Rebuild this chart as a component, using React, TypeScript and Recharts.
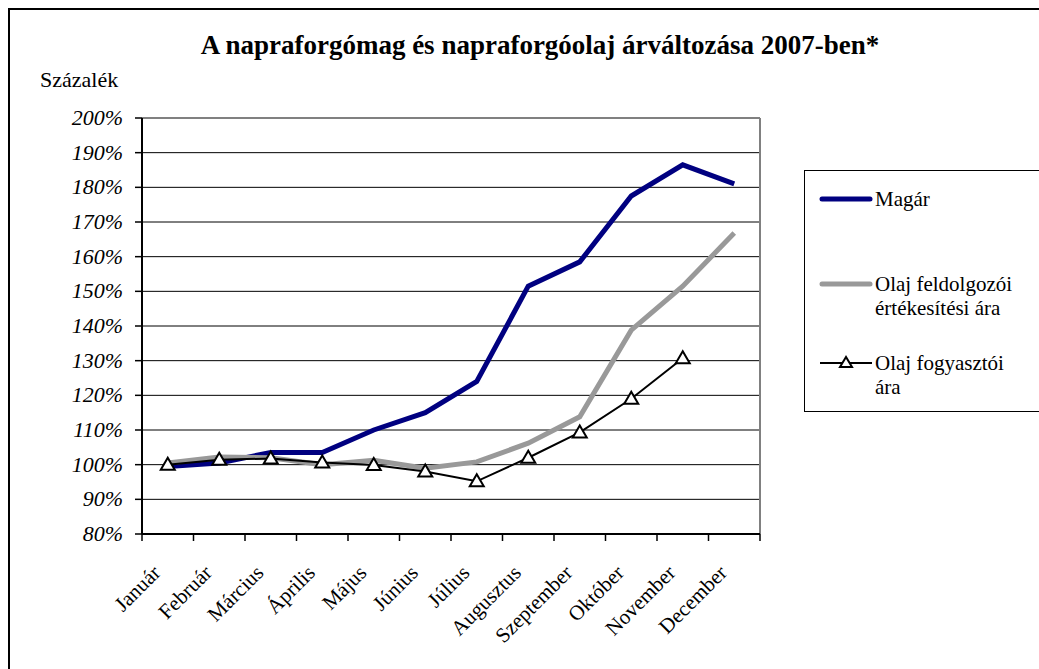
import React from 'react';
import { LineChart, Line, XAxis, YAxis, CartesianGrid, ReferenceLine, Legend } from 'recharts';

const months = ['Január', 'Február', 'Március', 'Április', 'Május', 'Június', 'Július', 'Augusztus', 'Szeptember', 'Október', 'November', 'December'];
const magar = [99.5, 100.5, 103.5, 103.5, 110, 115, 124, 151.5, 158.5, 177.5, 186.5, 181];
const olajFeldolgozoi = [100.5, 102.2, 102, 100, 101.3, 99, 100.8, 106.2, 113.8, 138.8, 151.5, 166.8];
const olajFogyasztoi: (number | null)[] = [100, 101.4, 101.8, 100.6, 99.9, 98, 95.2, 102, 109.3, 119, 130.7, null];
const yTicks = [80, 90, 100, 110, 120, 130, 140, 150, 160, 170, 180, 190, 200];

const data = months.map((m, i) => ({
  month: m,
  magar: magar[i],
  feld: olajFeldolgozoi[i],
  fogy: olajFogyasztoi[i],
}));

const FONT = 'Liberation Serif';
const W = 1039;
const H = 669;
const LEGEND_W = 240;
// the vertical legend on the right takes its width from the plot, so it is left out of the margin
const MARGIN = { top: 118, right: 279 - LEGEND_W, bottom: 0, left: 0 };
const Y_AXIS_W = 142;
const PLOT_W = W - 279 - Y_AXIS_W;
const HALF_BAND = PLOT_W / months.length / 2;

function Triangle(props: any) {
  const { cx, cy } = props;
  if (cx == null || cy == null) return <g />;
  return (
    <polygon
      points={`${cx},${cy - 7} ${cx - 7},${cy + 5} ${cx + 7},${cy + 5}`}
      fill="#fff"
      stroke="#000"
      strokeWidth={2}
    />
  );
}

function MonthTick(props: any) {
  const { x, y, payload, index } = props;
  const last = index === months.length - 1;
  const tx = x - 6;
  const ty = y + 40;
  return (
    <g>
      <line x1={x - HALF_BAND} y1={y} x2={x - HALF_BAND} y2={y + 7} stroke="#000" strokeWidth={1.5} />
      {last && <line x1={x + HALF_BAND} y1={y} x2={x + HALF_BAND} y2={y + 7} stroke="#000" strokeWidth={1.5} />}
      <text
        x={tx}
        y={ty}
        textAnchor="end"
        transform={`rotate(-45, ${tx}, ${ty})`}
        style={{ fontFamily: FONT }}
        fontSize={21}
        fill="#000"
      >
        {payload.value}
      </text>
    </g>
  );
}

function YTick(props: any) {
  const { x, y, payload } = props;
  return (
    <text x={x} y={y} dy={7} textAnchor="end" style={{ fontFamily: FONT }} fontStyle="italic" fontSize={22} fill="#000">
      {`${payload.value}%`}
    </text>
  );
}

const legendRows = [
  { top: 28, lines: ['Magár'] },
  { top: 113, lines: ['Olaj feldolgozói', 'értékesítési ára'] },
  { top: 192, lines: ['Olaj fogyasztói', 'ára'] },
];

function LegendBox(props: any) {
  const payload = props.payload || [];
  return (
    <div
      style={{
        position: 'relative',
        width: LEGEND_W,
        height: 240,
        border: '1px solid #000',
        background: '#fff',
        fontFamily: FONT,
        fontSize: 21,
        color: '#000',
      }}
    >
      {payload.map((entry: any, i: number) => {
        const row = legendRows[i];
        const thick = i < 2;
        return (
          <div key={entry.value} style={{ position: 'absolute', left: 14, top: row.top - 12, display: 'flex' }}>
            <svg width={54} height={24} style={{ flex: 'none' }}>
              <line
                x1={thick ? 3 : 1}
                y1={12}
                x2={thick ? 51 : 53}
                y2={12}
                stroke={entry.color}
                strokeWidth={thick ? 5 : 2}
                strokeLinecap={thick ? 'round' : 'butt'}
              />
              {!thick && <polygon points="27,6 21,16 33,16" fill="#fff" stroke="#000" strokeWidth={2} />}
            </svg>
            <div style={{ lineHeight: '24px', marginLeft: 2 }}>
              {row.lines.map((l) => (
                <div key={l}>{l}</div>
              ))}
            </div>
          </div>
        );
      })}
    </div>
  );
}

export default function App() {
  return (
    <div style={{ position: 'absolute', left: 0, top: 0, width: W, height: H, overflow: 'hidden', background: '#fff', fontFamily: FONT }}>
      <div style={{ position: 'absolute', left: 8, top: 8, width: W, height: H, borderLeft: '2px solid #000', borderTop: '2px solid #000' }} />
      <div
        style={{
          position: 'absolute',
          left: 540,
          top: 29,
          transform: 'translateX(-50%)',
          whiteSpace: 'nowrap',
          fontFamily: FONT,
          fontWeight: 'bold',
          fontSize: 27,
          lineHeight: '32px',
        }}
      >
        A napraforgómag és napraforgóolaj árváltozása 2007-ben*
      </div>
      <div style={{ position: 'absolute', left: 40, top: 67, fontFamily: FONT, fontSize: 22, lineHeight: '26px' }}>
        Százalék
      </div>
      <LineChart width={W} height={H} data={data} margin={MARGIN} style={{ position: 'absolute', left: 0, top: 0 }}>
        <CartesianGrid horizontal vertical={false} stroke="#000" strokeWidth={1} />
        <CartesianGrid
          horizontal={false}
          vertical
          stroke="#808080"
          strokeWidth={2}
          verticalCoordinatesGenerator={({ offset }: any) => [offset.left + offset.width]}
        />
        <ReferenceLine y={200} stroke="#808080" strokeWidth={2} />
        <XAxis
          dataKey="month"
          scale="band"
          interval={0}
          height={135}
          tickSize={0}
          tickMargin={0}
          axisLine={{ stroke: '#000', strokeWidth: 2 }}
          tick={<MonthTick />}
        />
        <YAxis
          width={Y_AXIS_W}
          domain={[80, 200]}
          ticks={yTicks}
          interval={0}
          tickSize={7}
          tickMargin={12}
          axisLine={{ stroke: '#000', strokeWidth: 2 }}
          tickLine={{ stroke: '#000', strokeWidth: 1.5 }}
          tick={<YTick />}
        />
        <Legend
          layout="vertical"
          verticalAlign="top"
          align="right"
          content={<LegendBox />}
          wrapperStyle={{ position: 'absolute', left: 804, top: 170, width: LEGEND_W, height: 240 }}
        />
        <Line
          name="Magár"
          dataKey="magar"
          stroke="#000080"
          strokeWidth={5}
          dot={false}
          isAnimationActive={false}
        />
        <Line
          name="Olaj feldolgozói értékesítési ára"
          dataKey="feld"
          stroke="#999999"
          strokeWidth={5}
          dot={false}
          isAnimationActive={false}
        />
        <Line
          name="Olaj fogyasztói ára"
          dataKey="fogy"
          stroke="#000"
          strokeWidth={2}
          dot={<Triangle />}
          isAnimationActive={false}
        />
      </LineChart>
    </div>
  );
}
